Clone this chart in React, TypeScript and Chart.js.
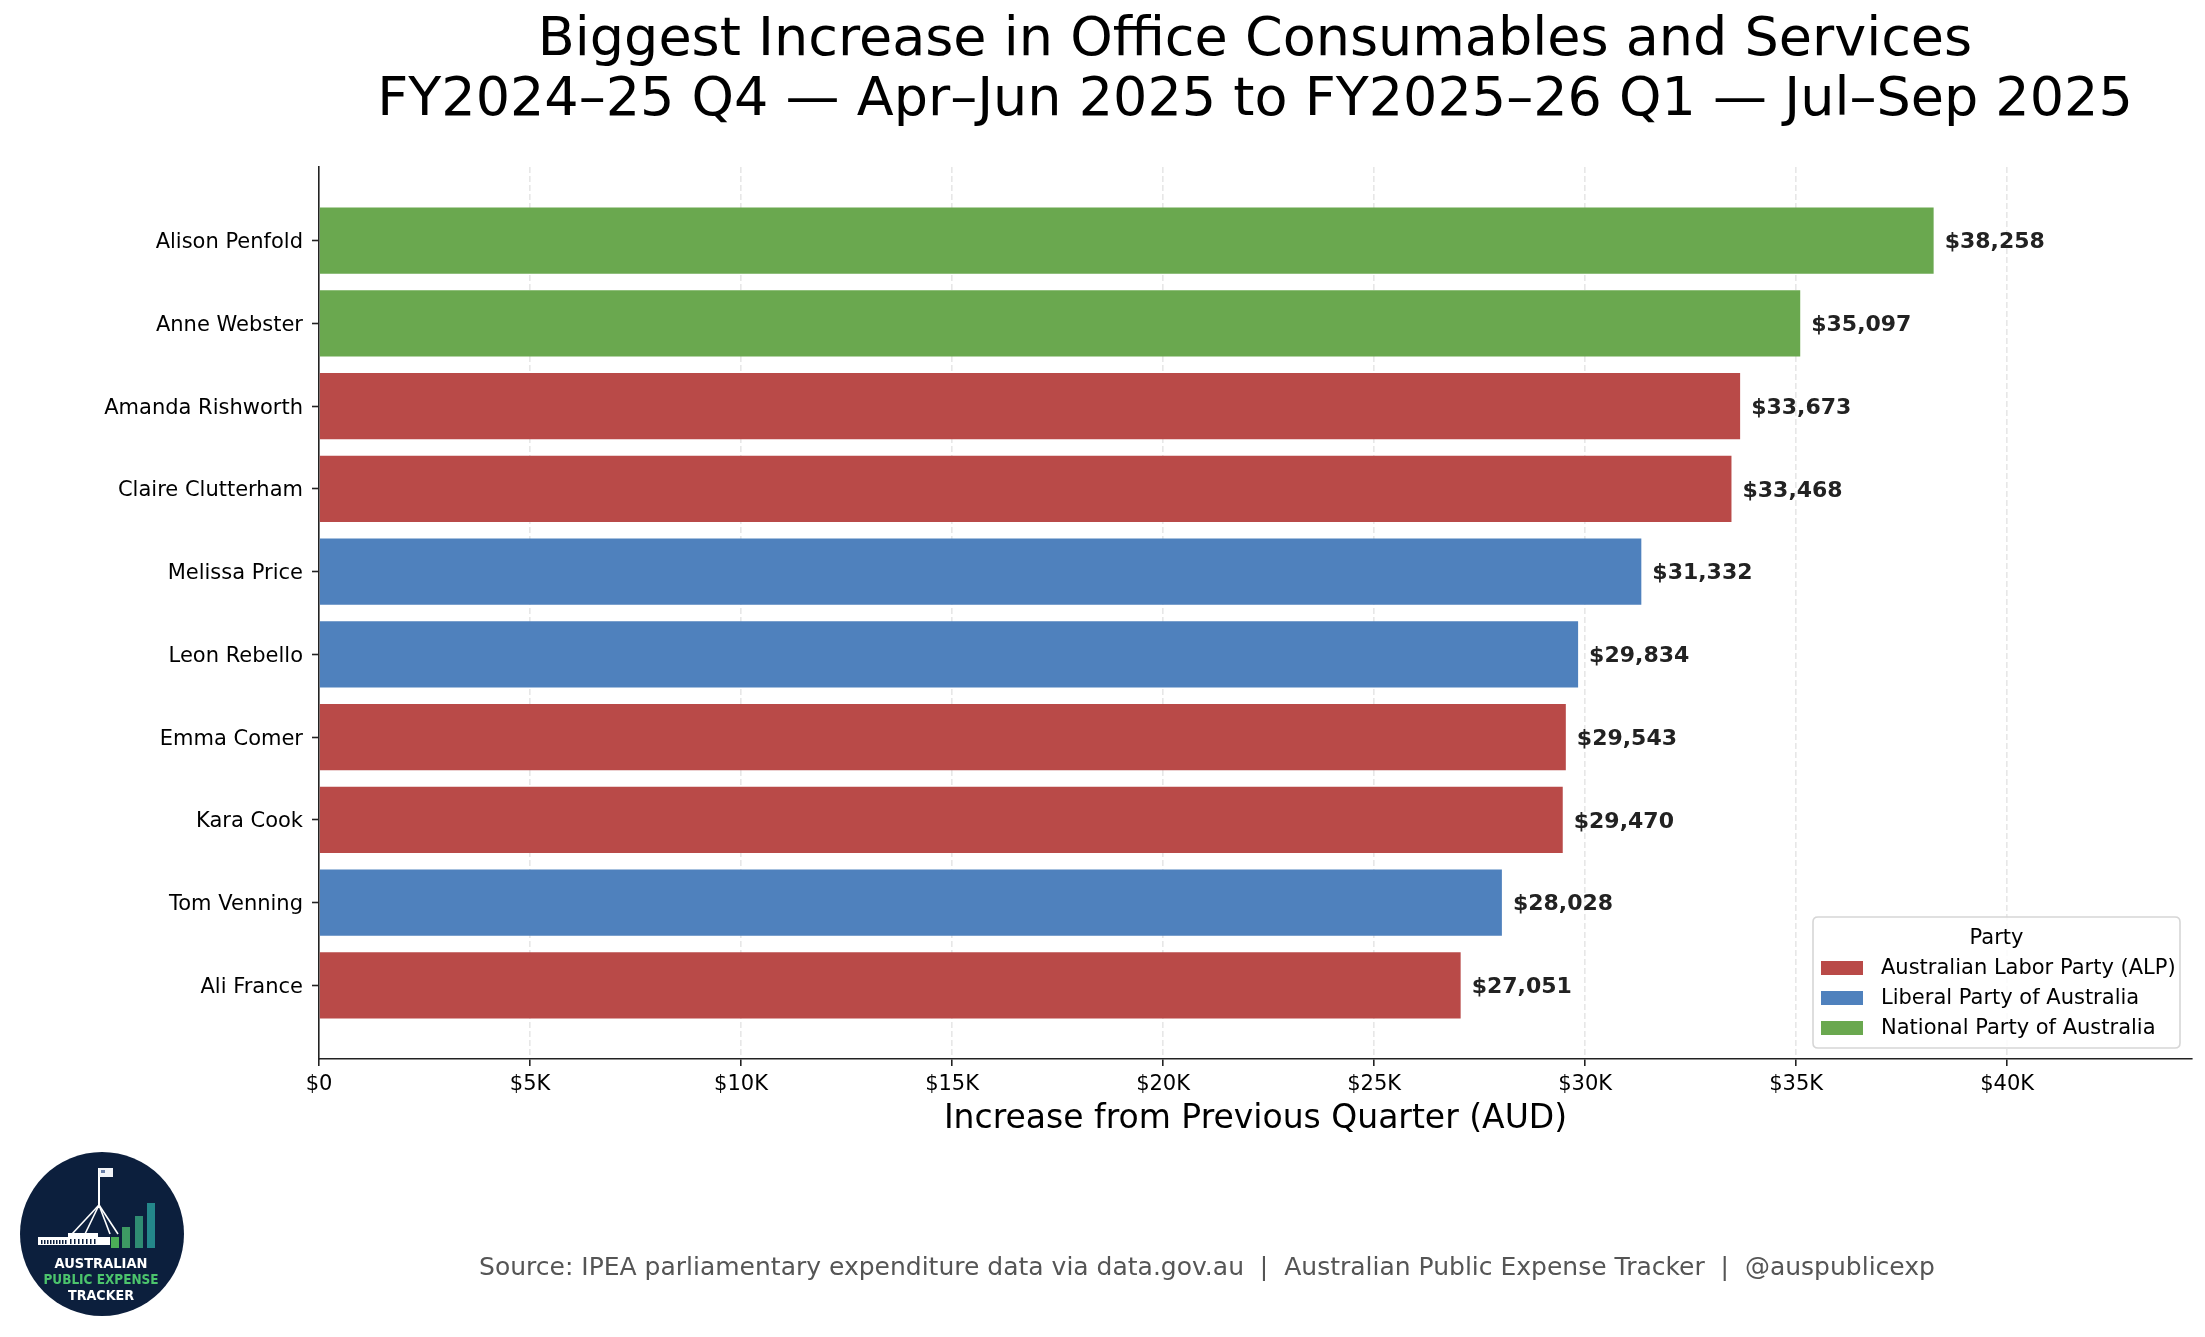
import { useEffect, useRef } from 'react';
import { Chart, registerables } from 'chart.js';

Chart.register(...registerables);

const members = [
  'Alison Penfold',
  'Anne Webster',
  'Amanda Rishworth',
  'Claire Clutterham',
  'Melissa Price',
  'Leon Rebello',
  'Emma Comer',
  'Kara Cook',
  'Tom Venning',
  'Ali France',
];
const increases = [38258, 35097, 33673, 33468, 31332, 29834, 29543, 29470, 28028, 27051];
const memberParty = [
  'National Party of Australia',
  'National Party of Australia',
  'Australian Labor Party (ALP)',
  'Australian Labor Party (ALP)',
  'Liberal Party of Australia',
  'Liberal Party of Australia',
  'Australian Labor Party (ALP)',
  'Australian Labor Party (ALP)',
  'Liberal Party of Australia',
  'Australian Labor Party (ALP)',
];
const parties = ['Australian Labor Party (ALP)', 'Liberal Party of Australia', 'National Party of Australia'];
const partyColors = ['#b94a48', '#4f81bd', '#6aa84f'];
const xTickValues = [0, 5000, 10000, 15000, 20000, 25000, 30000, 35000, 40000];
const xTickLabels = ['$0', '$5K', '$10K', '$15K', '$20K', '$25K', '$30K', '$35K', '$40K'];
const X_MAX = 44380;
const titleLines = [
  'Biggest Increase in Office Consumables and Services',
  'FY2024\u201325 Q4 \u2014 Apr\u2013Jun 2025 to FY2025\u201326 Q1 \u2014 Jul\u2013Sep 2025',
];
const xAxisTitle = 'Increase from Previous Quarter (AUD)';
const legendTitle = 'Party';
const sourceText =
  'Source: IPEA parliamentary expenditure data via data.gov.au  |  Australian Public Expense Tracker  |  @auspublicexp';
const logoLines = ['AUSTRALIAN', 'PUBLIC EXPENSE', 'TRACKER'];

const FONT = '"DejaVu Sans", "Liberation Sans", sans-serif';

function roundRectPath(ctx: CanvasRenderingContext2D, x: number, y: number, w: number, h: number, r: number) {
  ctx.beginPath();
  ctx.moveTo(x + r, y);
  ctx.lineTo(x + w - r, y);
  ctx.quadraticCurveTo(x + w, y, x + w, y + r);
  ctx.lineTo(x + w, y + h - r);
  ctx.quadraticCurveTo(x + w, y + h, x + w - r, y + h);
  ctx.lineTo(x + r, y + h);
  ctx.quadraticCurveTo(x, y + h, x, y + h - r);
  ctx.lineTo(x, y + r);
  ctx.quadraticCurveTo(x, y, x + r, y);
  ctx.closePath();
}

function drawLogo(ctx: CanvasRenderingContext2D) {
  const cx = 102;
  const cy = 1234;
  ctx.save();
  ctx.fillStyle = '#0c1f3d';
  ctx.beginPath();
  ctx.arc(cx, cy, 82, 0, Math.PI * 2);
  ctx.fill();
  // flag & pole
  ctx.strokeStyle = '#ffffff';
  ctx.lineWidth = 2;
  ctx.beginPath();
  ctx.moveTo(99, 1168);
  ctx.lineTo(99, 1208);
  ctx.stroke();
  ctx.fillStyle = '#f2f4f8';
  ctx.fillRect(99, 1168, 14, 9);
  ctx.fillStyle = '#6a7fa8';
  ctx.fillRect(101, 1170, 4, 3);
  // legs
  ctx.lineWidth = 1.6;
  const legs = [72, 85, 110, 118];
  legs.forEach((lx) => {
    ctx.beginPath();
    ctx.moveTo(99, 1205);
    ctx.lineTo(lx, 1234);
    ctx.stroke();
  });
  // building
  ctx.fillStyle = '#ffffff';
  ctx.fillRect(38, 1237, 72, 8);
  ctx.fillRect(68, 1233, 30, 4);
  ctx.fillStyle = '#0c1f3d';
  for (let i = 0; i < 9; i++) ctx.fillRect(41 + i * 3, 1240, 1.5, 4);
  for (let i = 0; i < 7; i++) ctx.fillRect(70 + i * 4, 1239, 1.5, 5);
  // bars
  const barCols = ['#4cae57', '#3d9a63', '#2f8c72', '#24878a'];
  const barTops = [1237, 1227, 1216, 1203];
  const barXs = [111, 122, 135, 147];
  barXs.forEach((bx, i) => {
    ctx.fillStyle = barCols[i];
    ctx.fillRect(bx, barTops[i], 8, 1248 - barTops[i]);
  });
  // text
  ctx.textAlign = 'center';
  ctx.textBaseline = 'alphabetic';
  ctx.font = `bold 14px ${FONT}`;
  ctx.fillStyle = '#ffffff';
  ctx.fillText(logoLines[0], 101, 1268, 93);
  ctx.fillStyle = '#4cc46c';
  ctx.fillText(logoLines[1], 101, 1284, 115);
  ctx.fillStyle = '#ffffff';
  ctx.fillText(logoLines[2], 101, 1300, 66);
  ctx.restore();
}

const overlayPlugin = {
  id: 'overlay',
  afterDraw(chart: any) {
    const ctx: CanvasRenderingContext2D = chart.ctx;
    const area = chart.chartArea;
    const meta = chart.getDatasetMeta(0);
    ctx.save();

    // value labels
    ctx.font = `bold 22px ${FONT}`;
    ctx.fillStyle = '#222222';
    ctx.textAlign = 'left';
    ctx.textBaseline = 'middle';
    meta.data.forEach((bar: any, i: number) => {
      ctx.fillText('$' + increases[i].toLocaleString('en-US'), bar.x + 11, bar.y + 2);
    });

    // title
    ctx.fillStyle = '#000000';
    ctx.textAlign = 'center';
    ctx.textBaseline = 'alphabetic';
    ctx.font = `54px ${FONT}`;
    ctx.fillText(titleLines[0], 1255, 55);
    ctx.fillText(titleLines[1], 1255, 115);

    // x axis title
    ctx.font = `33px ${FONT}`;
    ctx.fillText(xAxisTitle, (area.left + area.right) / 2, 1128);

    // source
    ctx.font = `25px ${FONT}`;
    ctx.fillStyle = '#555555';
    ctx.fillText(sourceText, 1207, 1275);

    // legend
    const lx = area.right - 379;
    const ly = area.bottom - 142;
    const lw = 367;
    const lh = 131;
    ctx.fillStyle = 'rgba(255,255,255,0.85)';
    roundRectPath(ctx, lx, ly, lw, lh, 5);
    ctx.fill();
    ctx.strokeStyle = '#d6d6d6';
    ctx.lineWidth = 1.6;
    ctx.stroke();
    ctx.fillStyle = '#000000';
    ctx.font = `21px ${FONT}`;
    ctx.textAlign = 'center';
    ctx.textBaseline = 'alphabetic';
    ctx.fillText(legendTitle, lx + lw / 2, ly + 27);
    ctx.textAlign = 'left';
    ctx.textBaseline = 'middle';
    parties.forEach((p, i) => {
      const rowY = ly + 51 + i * 30;
      ctx.fillStyle = partyColors[i];
      ctx.fillRect(lx + 8, rowY - 7, 42, 14);
      ctx.fillStyle = '#000000';
      ctx.fillText(p, lx + 68, rowY + 1);
    });

    drawLogo(ctx);
    ctx.restore();
  },
};

export default function App() {
  const ref = useRef<HTMLCanvasElement | null>(null);

  useEffect(() => {
    document.body.style.margin = '0';
    const canvas = ref.current;
    if (!canvas) return;
    Chart.defaults.font.family = FONT;
    const chart = new Chart(canvas, {
      type: 'bar',
      data: {
        datasets: [
          {
            label: 'Increase',
            data: increases.map((v, i) => ({ x: v, y: i })),
            backgroundColor: memberParty.map((p) => partyColors[parties.indexOf(p)]),
            borderWidth: 0,
            categoryPercentage: 1,
            barPercentage: 0.8,
          } as any,
        ],
      },
      options: {
        indexAxis: 'y',
        animation: false,
        responsive: false,
        events: [],
        layout: { padding: { top: 167, right: 13, bottom: 0, left: 0 } },
        plugins: {
          legend: { display: false },
          tooltip: { enabled: false },
          title: { display: false },
        },
        scales: {
          x: {
            type: 'linear',
            position: 'bottom',
            min: 0,
            max: X_MAX,
            z: 1,
            afterFit: (s: any) => {
              s.height = 278;
            },
            afterBuildTicks: (s: any) => {
              s.ticks = xTickValues.map((value) => ({ value }));
            },
            ticks: {
              autoSkip: false,
              maxRotation: 0,
              padding: 6,
              color: '#000000',
              font: { size: 21, family: FONT },
              callback: (v: any) => xTickLabels[xTickValues.indexOf(Number(v))],
            },
            grid: {
              display: true,
              drawOnChartArea: true,
              drawTicks: true,
              tickLength: 7,
              tickWidth: 1.6,
              tickColor: '#222222',
              lineWidth: 1.6,
              color: (c: any) => (c.tick && c.tick.value === 0 ? 'rgba(0,0,0,0)' : 'rgba(176,176,176,0.3)'),
            },
            border: { display: true, color: '#222222', width: 1.6, dash: [6, 3] },
          },
          y: {
            type: 'linear',
            position: 'left',
            min: -0.89,
            max: 9.89,
            reverse: true,
            offset: false,
            z: 1,
            afterFit: (s: any) => {
              s.width = 319;
            },
            afterBuildTicks: (s: any) => {
              s.ticks = members.map((_, i) => ({ value: i }));
            },
            ticks: {
              autoSkip: false,
              padding: 9,
              labelOffset: 2,
              color: '#000000',
              font: { size: 21, family: FONT },
              callback: (v: any) => members[Number(v)],
            },
            grid: {
              display: true,
              offset: false,
              drawOnChartArea: false,
              drawTicks: true,
              tickLength: 7,
              tickWidth: 1.6,
              tickColor: '#222222',
              color: '#222222',
            },
            border: { display: true, color: '#222222', width: 1.6 },
          },
        },
      },
      plugins: [overlayPlugin],
    });
    return () => chart.destroy();
  }, []);

  return <canvas ref={ref} width={2205} height={1337} style={{ display: 'block', width: 2205, height: 1337 }} />;
}
